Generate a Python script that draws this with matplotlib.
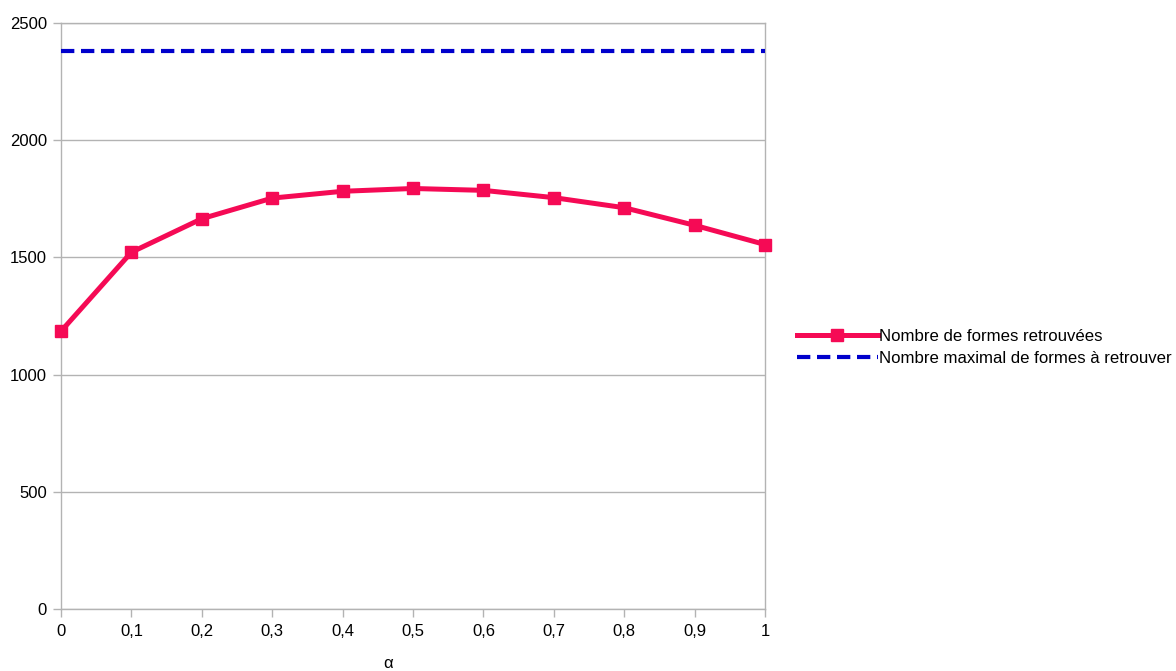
import matplotlib
matplotlib.use("Agg")
import matplotlib.pyplot as plt

plt.rcParams['font.family'] = ['Liberation Sans', 'DejaVu Sans']

alpha = [0, 0.1, 0.2, 0.3, 0.4, 0.5, 0.6, 0.7, 0.8, 0.9, 1.0]
x_labels = ["0", "0,1", "0,2", "0,3", "0,4", "0,5", "0,6", "0,7", "0,8", "0,9", "1"]
found = [1185, 1522, 1665, 1753, 1782, 1794, 1786, 1755, 1712, 1637, 1555]
max_forms = 2382
y_ticks = [0, 500, 1000, 1500, 2000, 2500]

fig = plt.figure(figsize=(11.76, 6.71), dpi=100)
ax = fig.add_axes([61/1176, 1 - 609/671, (765-61)/1176, (609-23)/671])

ax.plot(alpha, [max_forms]*len(alpha), color='#0000CC', lw=3.0,
        linestyle=(0, (3.2, 1.6)), label='Nombre maximal de formes à retrouver',
        zorder=3, clip_on=False)
ax.plot(alpha, found, color='#F50A55', lw=3.6, marker='s', markersize=9,
        label='Nombre de formes retrouvées', zorder=4, clip_on=False)

ax.set_xlim(0, 1)
ax.set_ylim(0, 2500)
ax.set_xticks(alpha)
ax.set_xticklabels(x_labels)
ax.set_yticks(y_ticks)
ax.grid(axis='y', color='#b3b3b3', lw=1)
ax.set_axisbelow(True)
for s in ax.spines.values():
    s.set_color('#b3b3b3')
    s.set_linewidth(1)
ax.tick_params(axis='both', colors='#b3b3b3', labelcolor='black', labelsize=12,
               length=6, width=1, direction='out')
ax.tick_params(axis='y', pad=4)
ax.tick_params(axis='x', pad=5)

fig.text(388/1176, 1 - 664/671, 'α', ha='center', va='center', fontsize=12)

h, l = ax.get_legend_handles_labels()
fig.legend(h[::-1], l[::-1], loc='center left', bbox_to_anchor=(797/1176, 1 - 347.5/671),
           frameon=False, fontsize=12.1, handlelength=4.8, handletextpad=0.1,
           labelspacing=0.45, borderaxespad=0, borderpad=0)

fig.savefig('out.png', dpi=100)
